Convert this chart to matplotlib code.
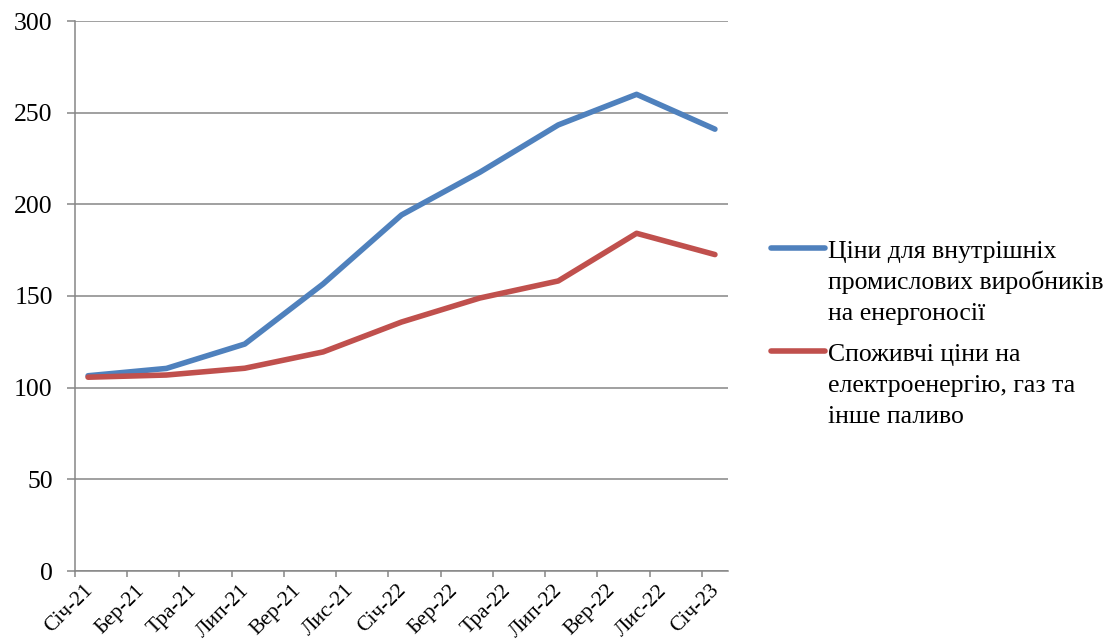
import matplotlib
matplotlib.use("Agg")
import matplotlib.pyplot as plt
from matplotlib.lines import Line2D
import matplotlib.transforms as mtransforms

# ---- data ----
tick_labels = ["Січ-21", "Бер-21", "Тра-21", "Лип-21", "Вер-21", "Лис-21", "Січ-22",
               "Бер-22", "Тра-22", "Лип-22", "Вер-22", "Лис-22", "Січ-23"]
# quarterly observations, month index from Jan-21
months = [0, 3, 6, 9, 12, 15, 18, 21, 24]
producer = [106.5, 110.5, 123.8, 156.6, 194.2, 217.5, 243.3, 260.0, 241.0]
consumer = [105.7, 106.9, 110.6, 119.5, 135.8, 148.9, 158.2, 184.2, 172.6]
series_names = [["Ціни для внутрішніх", "промислових виробників", "на енергоносії"],
                ["Споживчі ціни на", "електроенергію, газ та", "інше паливо"]]
colors = ["#4F81BD", "#C0504D"]

plt.rcParams['font.family'] = ['Liberation Serif', 'DejaVu Serif']

fig = plt.figure(figsize=(11.18, 6.4), dpi=100)
W, H = 1118, 640
left, right, top, bottom = 75, 728, 21, 571
ax = fig.add_axes([left / W, 1 - bottom / H, (right - left) / W, (bottom - top) / H])

LW = 4.0
x_pos = [m + 0.5 for m in months]
ax.plot(x_pos, producer, color=colors[0], lw=LW, solid_capstyle='round', solid_joinstyle='round', zorder=3)
ax.plot(x_pos, consumer, color=colors[1], lw=LW, solid_capstyle='round', solid_joinstyle='round', zorder=3)

ax.set_xlim(0, 25)
ax.set_ylim(0, 300)
ax.set_yticks(range(0, 301, 50))
ax.set_xticks(range(0, 25, 2))
ax.set_xticklabels(tick_labels, rotation=45, ha='right', va='top', rotation_mode='anchor')

gray = "#868686"
ax.grid(axis='y', color=gray, lw=1.1)
ax.set_axisbelow(True)
for s in ['top', 'right']:
    ax.spines[s].set_visible(False)
for s in ['left', 'bottom']:
    ax.spines[s].set_color(gray)
    ax.spines[s].set_linewidth(1.1)
ax.tick_params(axis='y', length=6, width=1.1, color=gray, labelsize=18.5, pad=10, direction='out')
ax.tick_params(axis='x', length=4, width=1.1, color=gray, labelsize=15.5, pad=4, direction='out')

offset = mtransforms.ScaledTranslation(8 / 100, 1 / 100, fig.dpi_scale_trans)
for lab in ax.get_xticklabels():
    lab.set_transform(lab.get_transform() + offset)

# ---- legend (manual) ----
handle_y = [248, 351]
for lines, c, hy in zip(series_names, colors, handle_y):
    fy = 1 - hy / H
    fig.add_artist(Line2D([771 / W, 825 / W], [fy, fy], color=c, lw=LW,
                          solid_capstyle='round', transform=fig.transFigure))
    for i, txt in enumerate(lines):
        by = hy + 10 + 31 * i
        fig.text(828 / W, 1 - by / H, txt, fontsize=18.5, va='baseline', ha='left')

fig.savefig("out.png", dpi=100)
